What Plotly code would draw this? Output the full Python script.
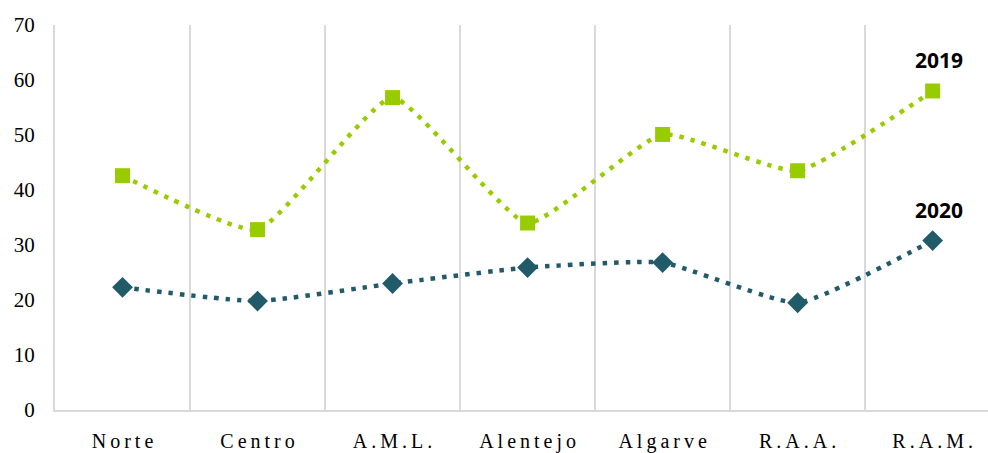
import plotly.graph_objects as go

regioes = ["Norte", "Centro", "A.M.L.", "Alentejo", "Algarve", "R.A.A.", "R.A.M."]
valores_2019 = [42.6, 32.8, 56.8, 34.0, 50.1, 43.5, 58.0]
valores_2020 = [22.3, 19.8, 23.0, 25.9, 26.8, 19.5, 30.8]
y_ticks = [0, 10, 20, 30, 40, 50, 60, 70]

VERDE = "#99CC00"
AZUL = "#215B6A"
GRELHA = "#D9D9D9"

# letter-spaced category labels (thin spaces between characters)
rotulos = ["\u2009".join(r) for r in regioes]

fig = go.Figure()
fig.add_trace(go.Scatter(
    x=rotulos, y=valores_2019, mode="lines+markers", name="2019",
    line=dict(color=VERDE, width=4.5, dash="4.5px,7px", shape="spline", smoothing=0.45),
    marker=dict(symbol="square", size=15, color=VERDE),
))
fig.add_trace(go.Scatter(
    x=rotulos, y=valores_2020, mode="lines+markers", name="2020",
    line=dict(color=AZUL, width=4.5, dash="4.5px,7px", shape="spline", smoothing=0.45),
    marker=dict(symbol="diamond", size=16, color=AZUL),
))

# series labels above the last point
for nome, serie in (("2019", valores_2019), ("2020", valores_2020)):
    fig.add_annotation(
        x=rotulos[-1], y=serie[-1], text="<b>%s</b>" % nome, showarrow=False,
        yshift=31, xshift=6,
        font=dict(family="Open Sans, Liberation Sans, sans-serif", size=21, color="#000000"),
    )

fig.update_layout(
    width=988, height=453,
    margin=dict(l=55, r=0, t=25, b=43),
    paper_bgcolor="white", plot_bgcolor="white",
    showlegend=False,
    font=dict(family="Liberation Serif, Times New Roman, serif", size=20, color="#000000"),
)
fig.update_xaxes(
    type="category",
    range=[-0.5, 6.41],
    tickson="boundaries", ticks="",
    showgrid=True, gridcolor=GRELHA, gridwidth=2,
    showline=True, linecolor=GRELHA, linewidth=2,
    zeroline=False, tickfont=dict(size=20),
    ticklabelstandoff=12,
)
fig.update_yaxes(
    range=[0, 70], tickvals=y_ticks,
    showgrid=False, zeroline=False,
    showline=True, linecolor=GRELHA, linewidth=2,
    ticks="", tickfont=dict(size=21),
    ticklabelstandoff=14,
)

fig.write_html("out.html")
